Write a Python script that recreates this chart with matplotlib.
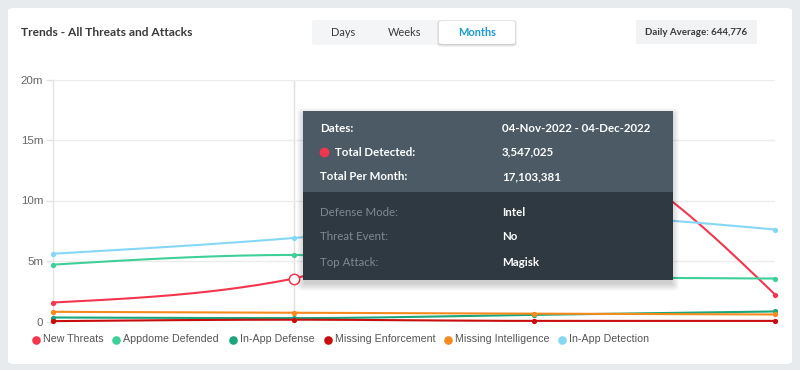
import numpy as np
import matplotlib
matplotlib.use("Agg")
import matplotlib.pyplot as plt
from matplotlib.patches import FancyBboxPatch
from matplotlib.lines import Line2D

# ---------------- data ----------------
periods = ["04-Oct-2022", "04-Nov-2022", "04-Dec-2022", "04-Jan-2023"]
series_names = ["New Threats", "Appdome Defended", "In-App Defense",
                "Missing Enforcement", "Missing Intelligence", "In-App Detection"]
new_threats = [1.57e6, 3.547025e6, 15.0e6, 2.23e6]
appdome_defended = [4.7e6, 5.5e6, 3.75e6, 3.55e6]
in_app_defense = [0.33e6, 0.28e6, 0.55e6, 0.83e6]
missing_enforcement = [0.03e6, 0.15e6, 0.05e6, 0.05e6]
missing_intelligence = [0.8e6, 0.72e6, 0.65e6, 0.58e6]
in_app_detection = [5.6e6, 6.9e6, 8.8e6, 7.6e6]
series_values = [new_threats, appdome_defended, in_app_defense,
                 missing_enforcement, missing_intelligence, in_app_detection]
series_colors = ["#f3364e", "#3fd09a", "#19a67c", "#c90d0d", "#f58a1f", "#86d7f6"]
ytick_values = [0, 5e6, 10e6, 15e6, 20e6]
ytick_labels = ["0", "5m", "10m", "15m", "20m"]
hover_index = 1
tooltip_rows_top = [("Dates:", "04-Nov-2022 - 04-Dec-2022"),
                    ("Total Detected:", "3,547,025"),
                    ("Total Per Month:", "17,103,381")]
tooltip_rows_bottom = [("Defense Mode:", "Intel"),
                       ("Threat Event:", "No"),
                       ("Top Attack:", "Magisk")]
title = "Trends - All Threats and Attacks"
range_buttons = ["Days", "Weeks", "Months"]
selected_button = "Months"
daily_average = "Daily Average: 644,776"

W, H = 800, 370
plt.rcParams['font.family'] = ['Lato', 'DejaVu Sans']
fig = plt.figure(figsize=(W / 100, H / 100), dpi=100)
fig.patch.set_facecolor("#e8ebee")


def P(x, y):
    return (x / W, 1 - y / H)


def pt(px):
    return px * 0.72


def rect(x0, y0, x1, y1, color, z, r=0.0, alpha=1.0, ec="none", lw=0):
    fx, fy = P(x0, y1)
    p = FancyBboxPatch((fx, fy), (x1 - x0) / W, (y1 - y0) / H,
                       boxstyle=f"round,pad=0,rounding_size={r / W}" if r > 0 else "square,pad=0",
                       transform=fig.transFigure, facecolor=color, edgecolor=ec,
                       linewidth=lw, alpha=alpha, zorder=z)
    fig.add_artist(p)
    return p


def text(x, y, s, size, color, weight="normal", ha="left", z=20, family=None):
    kw = {}
    if family:
        kw["family"] = family
    fig.text(*P(x, y), s, fontsize=pt(size), color=color, weight=weight,
             ha=ha, va="center", zorder=z, **kw)


# card
rect(8, 8, 792, 364, "white", -1, r=6)

# header
text(21, 32, title, 12, "#3a3a3a", weight="bold")
rect(312, 20, 516, 45, "#f4f5f7", 1, r=4)
for i, a in enumerate([0.05, 0.05, 0.06]):
    rect(439 - i, 21 - i + 1, 515 + i, 44 + i + 1, "#000000", 1.5, r=4 + i, alpha=a)
rect(439, 21, 515, 44, "white", 2, r=4)
btn_x = [343, 405, 477]
for bx, b in zip(btn_x, range_buttons):
    sel = (b == selected_button)
    text(bx, 32.5, b, 11, "#1b9ad6" if sel else "#3a3a3a",
         weight="bold" if sel else "normal", ha="center")
rect(636, 20, 757, 44, "#f1f2f4", 1, r=2)
text(696.5, 32.5, daily_average, 9.8, "#3a3a3a", weight="bold", ha="center")

# ---------------- axes ----------------
x_left, x_right, y_top, y_bot = 53, 775, 79.5, 321.5
ax = fig.add_axes([x_left / W, 1 - y_bot / H, (x_right - x_left) / W, (y_bot - y_top) / H])
ax.set_facecolor("none")
ax.set_zorder(1)
ax.set_xlim(0, len(periods) - 1)
ax.set_ylim(0, 20e6)
for s in ["top", "right", "bottom"]:
    ax.spines[s].set_visible(False)
ax.spines["left"].set_color("#e4e4e4")
ax.spines["left"].set_linewidth(1.0)
ax.set_yticks(ytick_values)
ax.set_yticklabels(ytick_labels, family=["Liberation Sans"], fontsize=pt(11.5), color="#666666")
ax.tick_params(axis="y", length=5, width=1, color="#e4e4e4", pad=2)
ax.set_xticks([])
ax.grid(axis="y", color="#ececec", linewidth=1.0)
ax.set_axisbelow(True)
ax.axvline(hover_index, color="#e0e0e0", linewidth=1.0, zorder=0.5)


def monotone(xs, ys, n=60):
    xs = np.asarray(xs, float)
    ys = np.asarray(ys, float)
    k = len(xs)
    h = np.diff(xs)
    s = np.diff(ys) / h
    t = np.zeros(k)
    for i in range(1, k - 1):
        p = (s[i - 1] * h[i] + s[i] * h[i - 1]) / (h[i - 1] + h[i])
        t[i] = (np.sign(s[i - 1]) + np.sign(s[i])) * min(abs(s[i - 1]), abs(s[i]), 0.5 * abs(p))
    t[0] = (3 * s[0] - t[1]) / 2
    t[-1] = (3 * s[-1] - t[-2]) / 2
    X, Y = [], []
    for i in range(k - 1):
        u = np.linspace(0, 1, n)
        h00 = 2 * u**3 - 3 * u**2 + 1
        h10 = u**3 - 2 * u**2 + u
        h01 = -2 * u**3 + 3 * u**2
        h11 = u**3 - u**2
        X.append(xs[i] + u * h[i])
        Y.append(h00 * ys[i] + h10 * h[i] * t[i] + h01 * ys[i + 1] + h11 * h[i] * t[i + 1])
    return np.concatenate(X), np.concatenate(Y)


xs = np.arange(len(periods))
draw_order = [5, 1, 4, 2, 3, 0]
for idx in draw_order:
    vals, col = series_values[idx], series_colors[idx]
    cx, cy = monotone(xs, vals)
    ax.plot(cx, cy, color=col, linewidth=1.5, zorder=2 + idx * 0.1, clip_on=False,
            solid_capstyle="round")
    ax.plot(xs, vals, "o", color=col, markersize=3.8, markeredgewidth=0,
            zorder=3 + idx * 0.1, clip_on=False)
ax.plot([hover_index], [new_threats[hover_index]], "o", markersize=7.5,
        markerfacecolor="white", markeredgecolor=series_colors[0],
        markeredgewidth=1.1, zorder=5, clip_on=False)

# ---------------- legend ----------------
leg_dot_x = [36, 116, 233, 328, 448, 562]
for dx, name, col in zip(leg_dot_x, series_names, series_colors):
    fig.add_artist(Line2D([dx / W], [1 - 339.5 / H], marker="o", markersize=6.2,
                          color=col, markeredgewidth=0, transform=fig.transFigure))
    text(dx + 7, 339.5, name, 10.6, "#555555", family=["Liberation Sans"])

# ---------------- tooltip ----------------
tx0, ty0, tx1, ty1 = 303, 111, 673, 280
for i in range(1, 9):
    rect(tx0 - i + 2, ty0 - i + 5, tx1 + i - 2, ty1 + i + 3, "#000000", 8, r=i, alpha=0.022)
rect(tx0, ty0, tx1, ty1, "#2f3942", 9)
rect(tx0, ty0, tx1, 192, "#4b5a65", 9.5)
row_y_top = [128, 152, 177]
for (lab, val), yy in zip(tooltip_rows_top, row_y_top):
    lx = 320
    if lab.startswith("Total Detected"):
        fig.add_artist(Line2D([324 / W], [1 - yy / H], marker="o", markersize=7,
                              color=series_colors[0], markeredgewidth=0,
                              transform=fig.transFigure, zorder=20))
        lx = 335
    text(lx, yy, lab, 11.5, "white", weight="bold")
    text(502, yy, val, 11.5, "white", weight="bold")
row_y_bot = [212, 237, 262]
for (lab, val), yy in zip(tooltip_rows_bottom, row_y_bot):
    text(320, yy, lab, 11.5, "#7e8990")
    text(502, yy, val, 11.5, "white", weight="bold")

fig.savefig("out.png", dpi=100, facecolor=fig.get_facecolor())
